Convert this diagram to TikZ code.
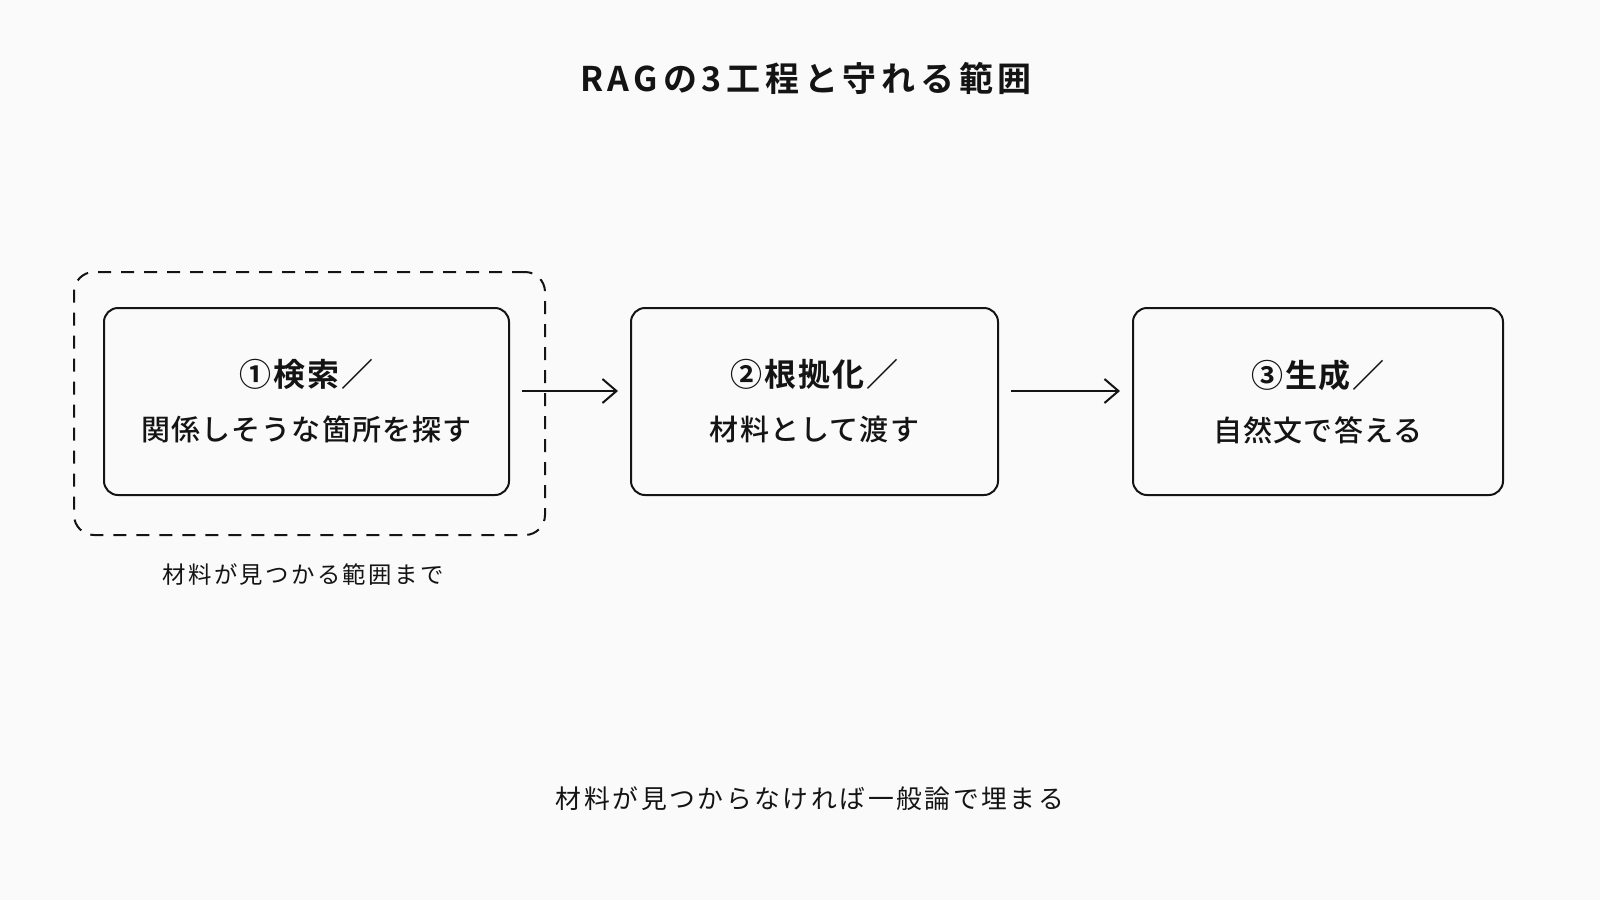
\documentclass[tikz,border=0pt]{standalone}
\usepackage{fontspec}
\usetikzlibrary{positioning,arrows.meta}
\setmainfont{Noto Sans CJK JP}
\newfontfamily\jpreg{Noto Sans CJK JP}[LetterSpace=10]
\newfontfamily\jpmed{Noto Sans CJK JP Medium}[LetterSpace=4]
\newfontfamily\jpbold{Noto Sans CJK JP Bold}[LetterSpace=6]
\newfontfamily\jptitle{Noto Sans CJK JP Bold}[LetterSpace=14]
\definecolor{paper}{RGB}{250,250,250}
\definecolor{ink}{RGB}{20,20,20}

\begin{document}
\begin{tikzpicture}[x=0.5pt, y=-0.5pt, text=ink,
    stage/.style={draw=ink, line width=1pt, rounded corners=7pt, minimum height=93.5pt,
      align=center, inner sep=0pt, font=\jpmed\fontsize{14.5pt}{27pt}\selectfont},
    reach/.style={draw=ink, line width=1pt, dash pattern=on 6.5pt off 5pt, rounded corners=10pt},
    flow/.style={draw=ink, line width=1pt, -{Straight Barb[length=7pt,width=12pt]},
      shorten <=6pt, shorten >=6pt}]
        % page
        \fill[paper] (0,0) rectangle (1600,900);
        \useasboundingbox (0,0) rectangle (1600,900);

        % Title
        \node[font=\jptitle\fontsize{17pt}{20pt}\selectfont] (title) at (806,78) {RAGの3工程と守れる範囲};

        % Three stages, left to right
        \node[stage, minimum width=202.5pt] (search) at (306.5,401.5)
            {{\jpbold\fontsize{16pt}{18pt}\selectfont ①検索／}\\関係しそうな箇所を探す};
        \node[stage, minimum width=183.5pt, right=60pt of search] (ground)
            {{\jpbold\fontsize{16pt}{18pt}\selectfont ②根拠化／}\\材料として渡す};
        \node[stage, minimum width=185pt, right=66.5pt of ground] (generate)
            {{\jpbold\fontsize{16pt}{18pt}\selectfont ③生成／}\\自然文で答える};

        % What retrieval can cover (dashed frame round stage 1)
        \node[reach, minimum width=235.5pt, minimum height=131.5pt] (scope) at (309.5,403.5) {};
        \node[font=\jpreg\fontsize{11.7pt}{14pt}\selectfont] (scopenote) at (303,575) {材料が見つかる範囲まで};

        % Arrows between stages
        \draw[flow] ([yshift=5.25pt]search.east) -- ([yshift=5.25pt]ground.west);
        \draw[flow] ([yshift=5.25pt]ground.east) -- ([yshift=5.25pt]generate.west);

        % Bottom remark
        \node[font=\jpreg\fontsize{12.9pt}{15pt}\selectfont] (remark) at (810,799) {材料が見つからなければ一般論で埋まる};
    \end{tikzpicture}
\end{document}
